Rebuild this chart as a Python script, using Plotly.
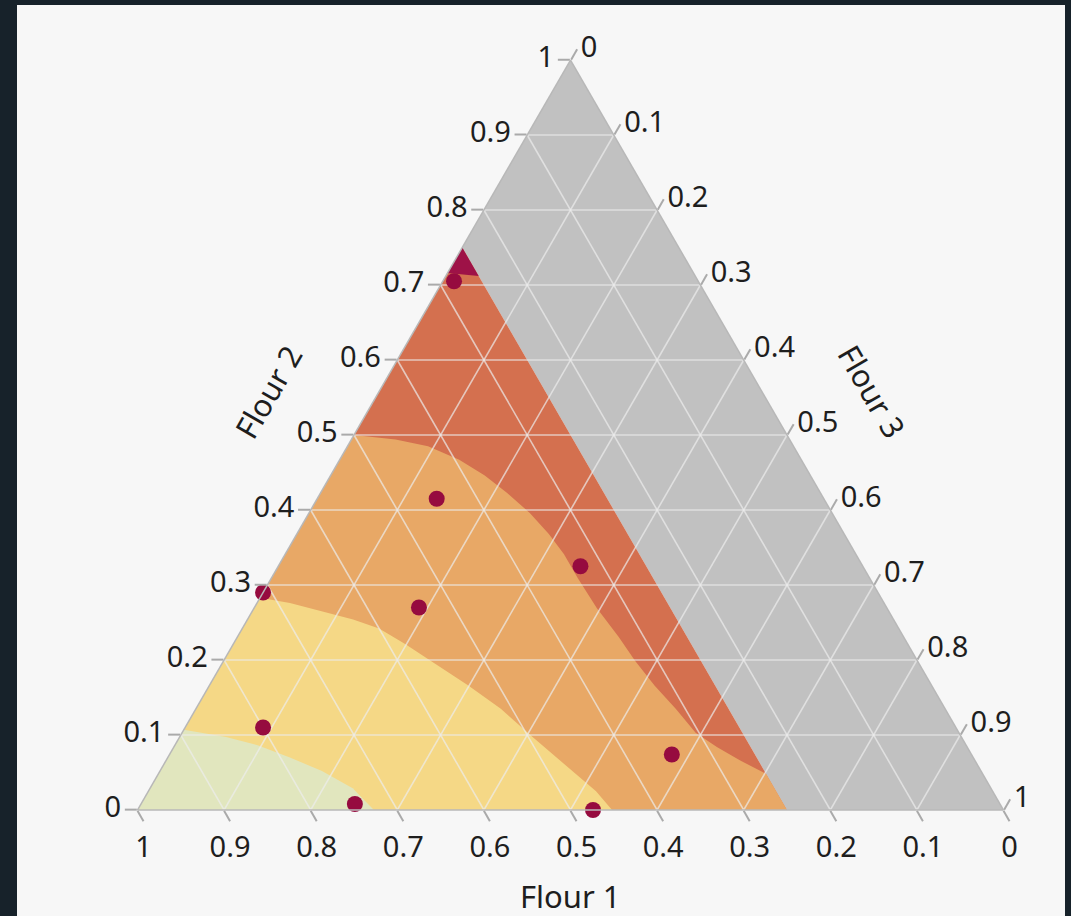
import plotly.graph_objects as go

# Lower limit on Flour 1 in the mixture design (region below it is shaded)
flour1_min = 0.25

# Design points (Flour 1, Flour 2, Flour 3 proportions)
pt_flour1 = [0.282, 0.447, 0.326, 0.710, 0.540, 0.800, 0.346, 0.745, 0.474]
pt_flour2 = [0.705, 0.415, 0.325, 0.290, 0.270, 0.110, 0.074, 0.008, 0.000]
pt_flour3 = [0.013, 0.138, 0.349, 0.000, 0.190, 0.090, 0.580, 0.247, 0.526]

# Contour boundaries of the fitted response, as (Flour 2, Flour 1) pairs
tip_flour2 = [0.716, 0.712]
tip_flour1 = [0.284, 0.250]

red_orange_flour2 = [0.500, 0.494, 0.485, 0.467, 0.446, 0.423, 0.396, 0.368, 0.341,
                     0.309, 0.269, 0.231, 0.199, 0.166, 0.135, 0.103, 0.084, 0.066, 0.048]
red_orange_flour1 = [0.500, 0.455, 0.422, 0.395, 0.376, 0.362, 0.349, 0.341, 0.337,
                     0.337, 0.335, 0.329, 0.326, 0.320, 0.311, 0.304, 0.289, 0.271, 0.250]

orange_yellow_flour2 = [0.283, 0.276, 0.265, 0.254, 0.242, 0.221, 0.194, 0.166, 0.135,
                        0.0975, 0.062, 0.025, 0.000]
orange_yellow_flour1 = [0.717, 0.686, 0.655, 0.624, 0.600, 0.580, 0.558, 0.535, 0.513,
                        0.495, 0.477, 0.458, 0.452]

yellow_green_flour2 = [0.107, 0.0975, 0.0865, 0.070, 0.052, 0.029, 0.000]
yellow_green_flour1 = [0.893, 0.849, 0.818, 0.789, 0.761, 0.737, 0.727]

grid_values = [0.1, 0.2, 0.3, 0.4, 0.5, 0.6, 0.7, 0.8, 0.9]

COL_GRAY = "#c1c1c1"
COL_TIP = "#9e1247"
COL_RED = "#d4704f"
COL_ORANGE = "#e8a866"
COL_YELLOW = "#f5d886"
COL_GREEN = "#e1e6be"
COL_POINT = "#960b3f"
FONT = "Noto Sans"


def closure(f2, f1):
    """Third component of each mixture so the proportions sum to one."""
    return [1 - a - b for a, b in zip(f2, f1)]


def region(f2, f1, color):
    return go.Scatterternary(
        a=f2, b=f1, c=closure(f2, f1), mode="lines", fill="toself",
        fillcolor=color, line=dict(width=0, color=color),
        hoverinfo="skip", showlegend=False,
    )


fig = go.Figure()

# shaded infeasible part (Flour 1 below its lower limit)
fig.add_trace(region([1, 1 - flour1_min, 0, 0], [0, flour1_min, flour1_min, 0], COL_GRAY))
# feasible region, layered from highest contour level down
fig.add_trace(region([1 - flour1_min, 0, 0], [flour1_min, 1, flour1_min], COL_RED))
fig.add_trace(region(red_orange_flour2 + [0, 0], red_orange_flour1 + [flour1_min, 1], COL_ORANGE))
fig.add_trace(region(orange_yellow_flour2 + [0], orange_yellow_flour1 + [1], COL_YELLOW))
fig.add_trace(region(yellow_green_flour2 + [0], yellow_green_flour1 + [1], COL_GREEN))
fig.add_trace(region([1 - flour1_min] + tip_flour2, [flour1_min] + tip_flour1, COL_TIP))

# grid drawn over the contour fills
ga, gb, gc = [], [], []
for v in grid_values:
    for seg in (((v, 1 - v, 0), (v, 0, 1 - v)),
                ((1 - v, v, 0), (0, v, 1 - v)),
                ((1 - v, 0, v), (0, 1 - v, v))):
        for p in seg:
            ga.append(p[0]); gb.append(p[1]); gc.append(p[2])
        ga.append(None); gb.append(None); gc.append(None)
fig.add_trace(go.Scatterternary(
    a=ga, b=gb, c=gc, mode="lines",
    line=dict(color="rgba(236,236,236,0.7)", width=1.6),
    hoverinfo="skip", showlegend=False,
))

# design points
fig.add_trace(go.Scatterternary(
    a=pt_flour2, b=pt_flour1, c=pt_flour3, mode="markers",
    marker=dict(size=16, color=COL_POINT, line=dict(width=0)),
    cliponaxis=False, showlegend=False,
))

axis_style = dict(
    min=0, tick0=0, dtick=0.1, ticks="outside", ticklen=12, tickwidth=1.5,
    tickcolor="#aaaaaa", linecolor="#b8b8b8", linewidth=1.5, showgrid=False,
    tickfont=dict(family=FONT, size=29, color="#1e1e1e"), title=dict(text=""),
    layer="above traces",
)

L, T, B = 70, 60, 106
W_PLOT, H_PLOT = 1071 - L, 916 - T - B


def px(x, y):
    return (x - L) / W_PLOT, (916 - B - y) / H_PLOT


fig.update_layout(
    width=1071, height=916,
    margin=dict(l=L, r=0, t=T, b=B),
    paper_bgcolor="#17222a",
    ternary=dict(
        sum=1, bgcolor="rgba(0,0,0,0)",
        aaxis=axis_style, baxis=axis_style, caxis=axis_style,
    ),
    font=dict(family=FONT, color="#1e1e1e"),
)

# light panel behind the chart
x0, y1 = px(17, 5)
x1, y0 = px(1065, 916)
fig.add_shape(type="rect", xref="paper", yref="paper", x0=x0, x1=x1, y0=y0, y1=y1,
              fillcolor="#f7f7f7", line=dict(width=0), layer="below")

title_font = dict(family=FONT, size=31, color="#1e1e1e")
for text, (x, y), ang in (("Flour 1", (570.5, 896), 0),
                          ("Flour 2", (268, 392), -60),
                          ("Flour 3", (872, 391), 60)):
    xp, yp = px(x, y)
    fig.add_annotation(text=text, x=xp, y=yp, xref="paper", yref="paper",
                       showarrow=False, textangle=ang, font=title_font,
                       xanchor="center", yanchor="middle")

fig.write_html("out.html")
